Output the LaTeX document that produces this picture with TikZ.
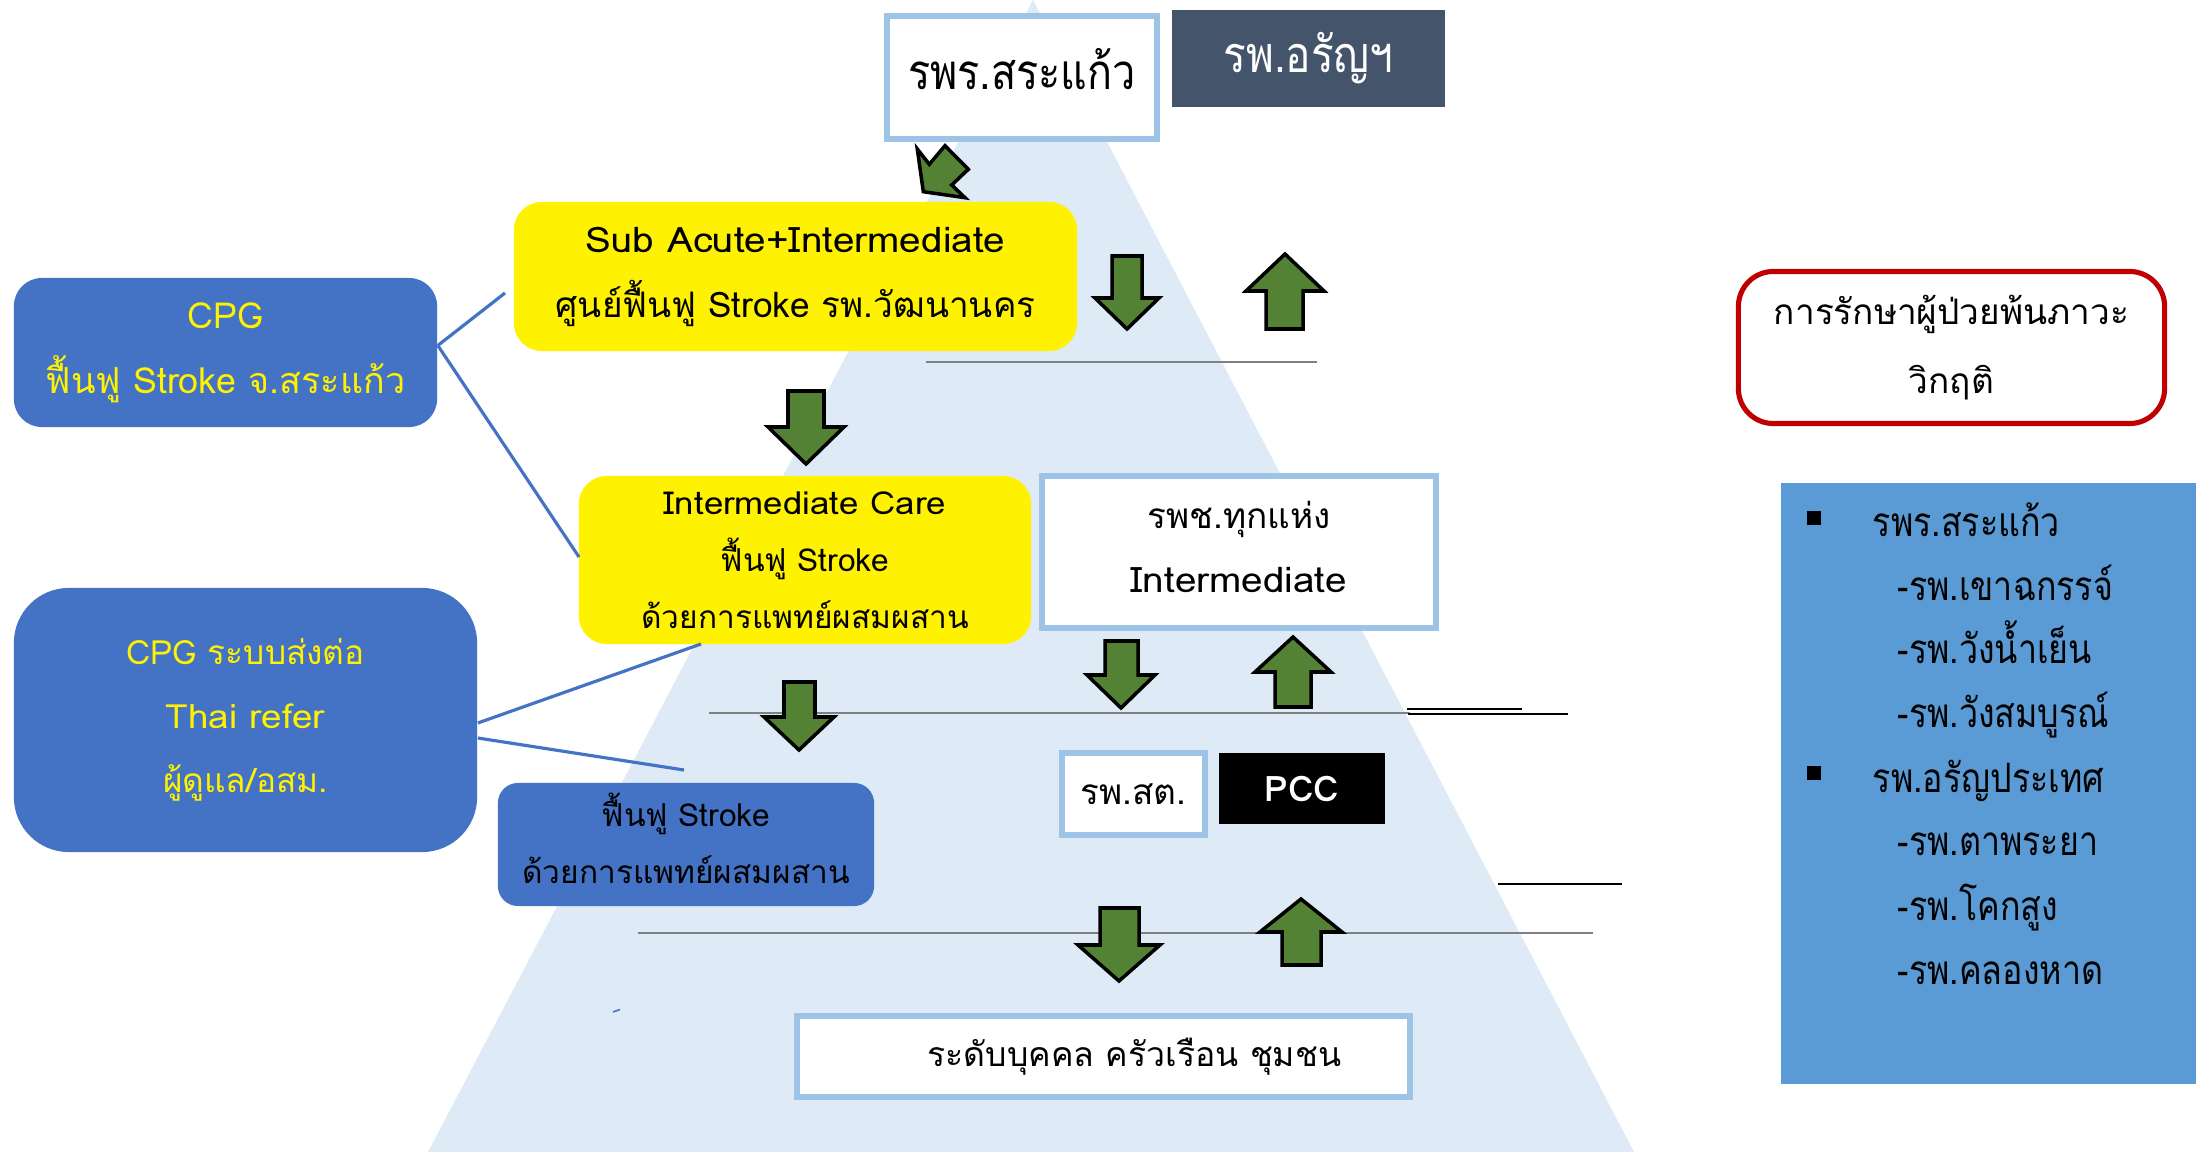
\documentclass[tikz,border=0pt]{standalone}
\usepackage{fontspec}
\setmainfont[Script=Thai]{Loma}
\newfontfamily\narrowloma[Script=Thai,FakeStretch=0.84]{Loma}
\newfontfamily\wideloma[Script=Thai,FakeStretch=1.1]{Loma}
\newcommand\adddepth[1]{\rule[-#1]{0pt}{#1}}
\definecolor{tri}{HTML}{DEEAF6}
\definecolor{lblue}{HTML}{9DC3E6}
\definecolor{slate}{HTML}{44546A}
\definecolor{cblue}{HTML}{4472C4}
\definecolor{pblue}{HTML}{5B9BD5}
\definecolor{agreen}{HTML}{548235}
\definecolor{dred}{HTML}{C00000}
\definecolor{lgray}{HTML}{808080}
\begin{document}
\begin{tikzpicture}[x=0.01cm,y=-0.01cm,
  box/.style={inner sep=0pt, align=center},
  wbox/.style={box, draw=lblue, line width=1.7pt, fill=white},
  ybox/.style={box, fill=yellow, rounded corners=2.8mm},
  cbox/.style={box, fill=cblue, text=yellow, rounded corners=2.8mm},
  garrow/.style={fill=agreen, draw=black, line width=1pt, line join=miter},
  hline/.style={draw=lgray, line width=0.45pt},
  bline/.style={draw=black, line width=0.45pt},
  conn/.style={draw=cblue, line width=0.9pt},
  item/.style={anchor=base west, inner sep=0pt, font=\narrowloma\fontsize{11.5pt}{14pt}\selectfont},
]
\useasboundingbox (0,0) rectangle (2196,1152);
\fill[white] (0,0) rectangle (2196,1152);
% pyramid
\fill[tri] (428,1152) -- (1033,0) -- (1634,1152) -- cycle;
% horizontal rules
\draw[hline] (926,362) -- (1317,362);
\draw[hline] (709,713) -- (1410,713);
\draw[bline] (1408,714) -- (1568,714);
\draw[bline] (1407,709) -- (1522,709);
\draw[bline] (1498,884) -- (1622,884);
\draw[hline] (638,933) -- (1593,933);
\draw[cblue, line width=0.45pt] (613,1012) -- (620,1009.5);

% boxes
\node[wbox, minimum width=27.0mm, minimum height=12.3mm, font=\narrowloma\fontsize{14pt}{17pt}\selectfont] (srakaeo) at (1022,77.5) {รพร.สระแก้ว\adddepth{4.6pt}};
\node[box, fill=slate, text=white, minimum width=27.3mm, minimum height=9.7mm, font=\narrowloma\fontsize{14.3pt}{16pt}\selectfont] (aranya) at (1308.5,58.5) {รพ.อรัญฯ};
\node[ybox, minimum width=56.3mm, minimum height=14.9mm, font=\fontsize{10pt}{18.5pt}\selectfont] (subacute) at (795.5,276.5) {{\wideloma Sub Acute+Intermediate}\\ศูนย์ฟื้นฟู Stroke รพ.วัฒนานคร};
\node[cbox, minimum width=42.3mm, minimum height=14.9mm, font=\fontsize{10.2pt}{18.5pt}\selectfont] (cpgone) at (225.5,352.5) {CPG\\ฟื้นฟู Stroke จ.สระแก้ว};
\node[ybox, minimum width=45.2mm, minimum height=16.8mm, font=\fontsize{9pt}{16.2pt}\selectfont] (intercare) at (805,560) {{\wideloma Intermediate Care}\\ฟื้นฟู Stroke\\ด้วยการแพทย์ผสมผสาน};
\node[wbox, minimum width=39.4mm, minimum height=15.2mm, font=\fontsize{10pt}{18.2pt}\selectfont] (rpch) at (1239,552) {รพช.ทุกแห่ง\\{\wideloma Intermediate}\adddepth{2.8pt}};
\node[cbox, rounded corners=5.5mm, minimum width=46.3mm, minimum height=26.4mm, font=\fontsize{9.5pt}{18.2pt}\selectfont] (cpgtwo) at (245.5,720) {CPG ระบบส่งต่อ\\{\wideloma Thai refer}\\ผู้ดูแล/อสม.};
\node[box, fill=cblue, rounded corners=2mm, minimum width=37.6mm, minimum height=12.3mm, font=\fontsize{9pt}{16pt}\selectfont] (rehab) at (686,844.5) {ฟื้นฟู Stroke\\ด้วยการแพทย์ผสมผสาน\adddepth{3.6pt}};
\node[wbox, minimum width=14.3mm, minimum height=8.2mm, font=\fontsize{10pt}{12pt}\selectfont] (rpst) at (1133.5,794) {รพ.สต.};
\node[box, fill=black, text=white, minimum width=16.6mm, minimum height=7.1mm, font=\bfseries\fontsize{10pt}{12pt}\selectfont] (pcc) at (1302,788.5) {PCC};
\node[wbox, minimum width=61.3mm, minimum height=8.1mm, font=\fontsize{9.6pt}{12pt}\selectfont] (community) at (1103.5,1056.5) {\hspace*{17.6pt}ระดับบุคคล ครัวเรือน ชุมชน};
\node[box, draw=dred, line width=1.45pt, fill=white, rounded corners=3.5mm, minimum width=42.6mm, minimum height=15.2mm, font=\fontsize{10pt}{19.6pt}\selectfont] (crisis) at (1951.5,347.5) {การรักษาผู้ป่วยพ้นภาวะ\\วิกฤติ};
\node[box, fill=pblue, minimum width=41.5mm, minimum height=60.1mm] (panel) at (1988.5,783.5) {};

% panel list
\node[item] (pa) at (1806,537) {\makebox[18.8pt][l]{\raisebox{3.4pt}{\rule{4pt}{4pt}}}รพร.สระแก้ว};
\node[item] (pb) at (1897,601) {-รพ.เขาฉกรรจ์};
\node[item] (pc) at (1897,664) {-รพ.วังน้ำเย็น};
\node[item] (pd) at (1897,728) {-รพ.วังสมบูรณ์};
\node[item] (pe) at (1806,792) {\makebox[18.8pt][l]{\raisebox{3.4pt}{\rule{4pt}{4pt}}}รพ.อรัญประเทศ};
\node[item] (pf) at (1897,856) {-รพ.ตาพระยา};
\node[item] (pg) at (1897,920) {-รพ.โคกสูง};
\node[item] (ph) at (1897,984) {-รพ.คลองหาด};

% connectors from CPG boxes
\coordinate (ea) at (505,293);
\coordinate (eb) at (579,557);
\coordinate (ec) at (701,644);
\coordinate (ed) at (684,770);
\draw[conn] ([yshift=0.7mm]cpgone.east) -- (ea);
\draw[conn] ([yshift=0.7mm]cpgone.east) -- (eb);
\draw[conn] ([yshift=-0.3mm]cpgtwo.east) -- (ec);
\draw[conn] ([yshift=-1.8mm]cpgtwo.east) -- (ed);

% green block arrows
\draw[garrow] (923.3,191.7) -- (917.3,149) -- (929.3,164.3) -- (945,145.7) -- (968.3,169.3) -- (951.7,185) -- (965,197.7) -- cycle;
\draw[garrow] (1112,256) -- (1142,256) -- (1142,298) -- (1159,298) -- (1127,329) -- (1095,298) -- (1112,298) -- cycle;
\draw[garrow] (1285,254) -- (1324,291) -- (1303,291) -- (1303,329) -- (1266,329) -- (1266,291) -- (1246,291) -- cycle;
\draw[garrow] (788,391) -- (824,391) -- (824,427) -- (844,427) -- (806,464) -- (768,427) -- (788,427) -- cycle;
\draw[garrow] (784,682) -- (815,682) -- (815,717) -- (834,717) -- (799,750) -- (764,717) -- (784,717) -- cycle;
\draw[garrow] (1105,641) -- (1138,641) -- (1138,675) -- (1155,675) -- (1121,708) -- (1087,675) -- (1105,675) -- cycle;
\draw[garrow] (1293,637) -- (1331,672) -- (1311,672) -- (1311,707) -- (1275,707) -- (1275,672) -- (1255,672) -- cycle;
\draw[garrow] (1100,908) -- (1139,908) -- (1139,945) -- (1160,945) -- (1119,981) -- (1078,945) -- (1100,945) -- cycle;
\draw[garrow] (1301,899) -- (1342,932) -- (1321,932) -- (1321,965) -- (1282,965) -- (1282,932) -- (1260,932) -- cycle;
\end{tikzpicture}
\end{document}
